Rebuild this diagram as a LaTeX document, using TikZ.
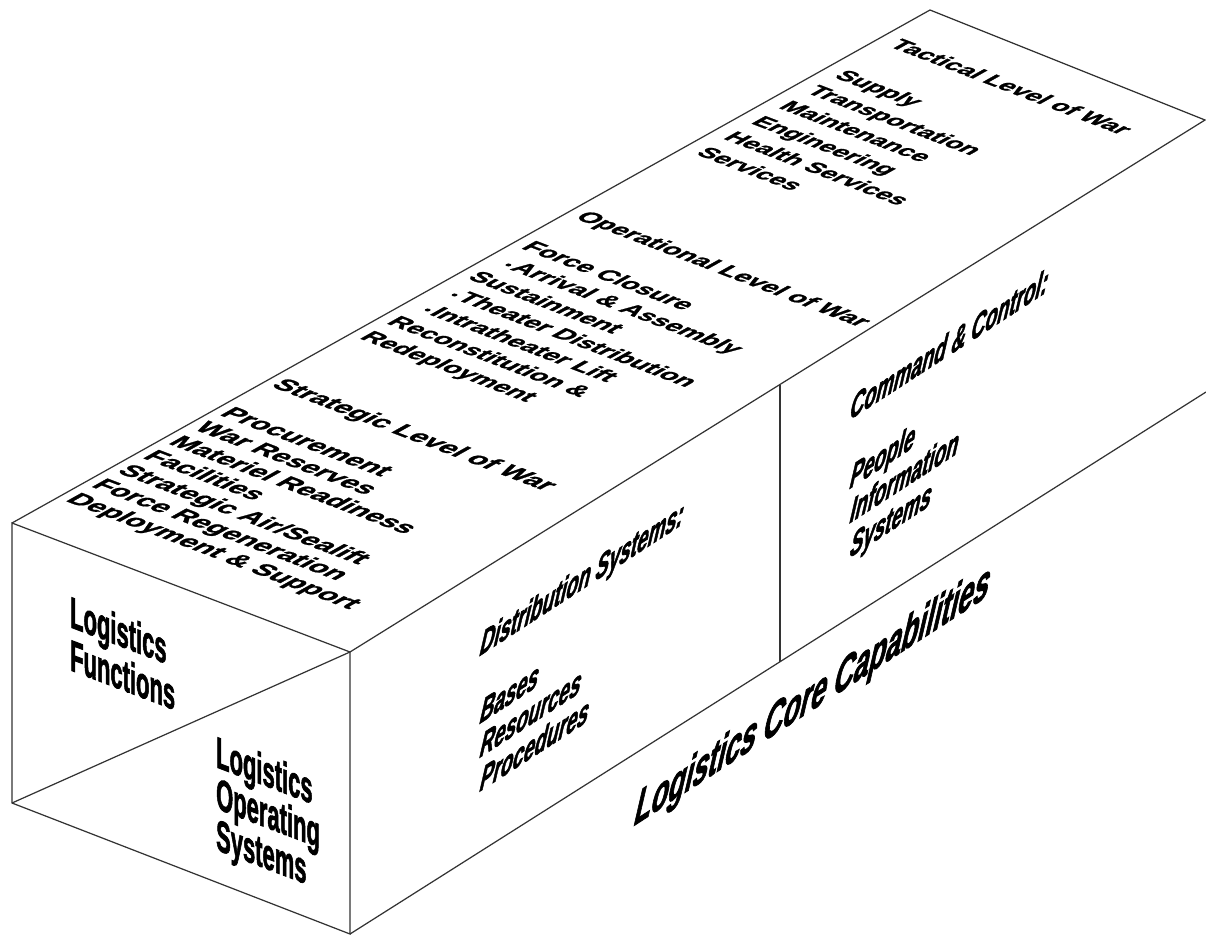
\documentclass[tikz,border=0pt]{standalone}
\usepackage{fontspec}
\setmainfont{Liberation Sans}
\newfontfamily\heavysans[UprightFont={* Bold},FakeBold=1.2]{Liberation Sans}
\newfontfamily\blacksans[UprightFont={* Bold},FakeBold=2.2]{Liberation Sans}
\newfontfamily\slantsans[UprightFont={* Bold},FakeSlant=0.45,FakeBold=2.2]{Liberation Sans}
\newcommand\bul{\hspace*{5pt}{\fontsize{9}{9}\selectfont\textbullet}\hspace{1.5pt}}

\begin{document}
\begin{tikzpicture}[x=0.02cm,y=-0.02cm,
  box line/.style={draw=black!80,line width=0.7pt},
  top face/.style={cm={0.934,-0.357,0.786,0.438,(0,0)}},
  front face/.style={cm={0.50,-0.191,0,1,(0,0)}},
  side face/.style={cm={0.604,0.392,0,1,(0,0)}},
  face text/.style={anchor=base west,inner sep=0pt,transform shape},
  top text/.style={face text,font=\heavysans\fontsize{#1}{#1}\selectfont},
  top text/.default=16]
\tikzstyle{front text} = [face text,font=\blacksans\fontsize{25}{25}\selectfont]
\tikzstyle{side text} = [face text,font=\slantsans\fontsize{18.5}{18.5}\selectfont]

\useasboundingbox (0,0) rectangle (1206,936);

% corners of the box
\coordinate (ftl) at (12,523);
\coordinate (fbl) at (12,803);
\coordinate (ftr) at (350,652);
\coordinate (fbr) at (350,934);
\coordinate (ttl) at (930,10);
\coordinate (ttr) at (1205,120);
\coordinate (sbr) at (1206,392);
\coordinate (dtop) at (780,384.5);
\coordinate (dbot) at (780,661.7);

\draw[box line] (ftl) -- (fbl) -- (fbr) -- (ftr) -- cycle;
\draw[box line] (fbl) -- (ftr);
\draw[box line] (ftl) -- (ttl) -- (ttr) -- (ftr);
\draw[box line] (fbr) -- (sbr);
\draw[box line] (dtop) -- (dbot);

% front face
\begin{scope}[shift={(70,627)},front face]
\foreach \t [count=\i from 0] in {Logistics,Functions}
  \node[front text] (func-\i) at (0pt,{-\i*24.5pt}) {\t};
\end{scope}
\begin{scope}[shift={(216,767)},front face]
\foreach \t [count=\i from 0] in {Logistics,Operating,Systems}
  \node[front text] (los-\i) at (0pt,{-\i*23.5pt}) {\t};
\end{scope}

% top face
\begin{scope}[shift={(270,386)},top face]
\node[top text] (strat) at (0pt,0pt) {Strategic Level of War};
\foreach \t [count=\i from 2] in {Procurement,War Reserves,Materiel Readiness,Facilities,Strategic Air/Sealift,Force Regeneration,Deployment \& Support}
  \node[top text] (strat-\i) at (0pt,{-\i*18.6pt}) {\t};
\end{scope}
\begin{scope}[shift={(574,218)},top face]
\node[top text=14.8] (oper) at (0pt,0pt) {Operational Level of War};
\foreach \t [count=\i from 2] in {Force Closure,\bul Arrival \& Assembly,Sustainment,\bul Theater Distribution,\bul Intratheater Lift,Reconstitution \&,Redeployment}
  \node[top text=14.8] (oper-\i) at (0pt,{-\i*19.5pt}) {\t};
\end{scope}
\begin{scope}[shift={(888,46)},top face]
\node[top text=14.4] (tact) at (0pt,0pt) {Tactical Level of War};
\foreach \t [count=\i from 2] in {Supply,Transportation,Maintenance,Engineering,Health Services,Services}
  \node[top text=14.4] (tact-\i) at (0pt,{-\i*20pt}) {\t};
\end{scope}

% side face
\begin{scope}[shift={(478,657)},side face]
\node[side text] (dist) at (0pt,0pt) {Distribution Systems:};
\foreach \t [count=\i from 2] in {Bases,Resources,Procedures}
  \node[side text] (dist-\i) at (0pt,{-\i*19.3pt}) {\t};
\end{scope}
\begin{scope}[shift={(848,421)},side face]
\node[side text] (cmd) at (0pt,0pt) {Command \& Control:};
\foreach \t [count=\i from 2] in {People,Information,Systems}
  \node[side text] (cmd-\i) at (0pt,{-\i*19.6pt}) {\t};
\end{scope}
\begin{scope}[shift={(632,827)},side face]
\node[face text,font=\slantsans\fontsize{26}{26}\selectfont] (core) at (0pt,0pt) {Logistics Core Capabilities};
\end{scope}
\end{tikzpicture}
\end{document}
